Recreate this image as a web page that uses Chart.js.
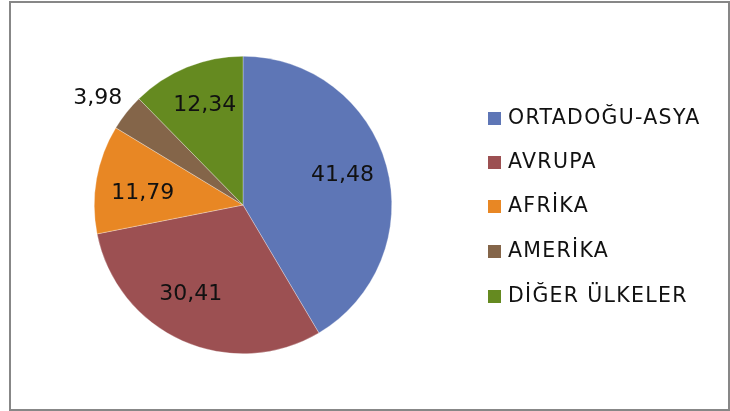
<!DOCTYPE html>
<html lang="tr">
  <head>
    <meta charset="UTF-8" />
    <title>Pie</title>
    <script src="https://cdn.jsdelivr.net/npm/chart.js"></script>
    <style>
      body { margin: 0; background: #fff; }
      .wrap { position: relative; width: 730px; height: 411px; overflow: hidden; }
      #pieChart { position: absolute; left: 0; top: 0; }
      .frame {
        position: absolute; left: 9px; top: 1px; width: 717px; height: 406px;
        border: 2px solid #878787;
      }
      .legend { position: absolute; left: 488px; top: 0; font-family: "DejaVu Sans", sans-serif; font-size: 20.5px; letter-spacing: 1.3px; color: #111; }
      .legend div { position: absolute; left: 0; white-space: nowrap; line-height: 20px; }
      .legend span.box { display: inline-block; width: 13px; height: 13px; margin-right: 7px; vertical-align: -1px; }
    </style>
  </head>
  <body>
    <div class="wrap">
      <canvas id="pieChart" width="730" height="411"></canvas>
      <div class="frame"></div>
      <div class="legend" id="legend"></div>
    </div>

    <script>
      // veriler
      const labels = ['ORTADOĞU-ASYA', 'AVRUPA', 'AFRİKA', 'AMERİKA', 'DİĞER ÜLKELER'];
      const values = [41.48, 30.41, 11.79, 3.98, 12.34];
      const colors = ['#5E76B6', '#9C5052', '#E88724', '#846549', '#658A20'];

      const fmt = v => v.toFixed(2).replace('.', ',');

      // etiket yerleşimi (Excel'deki gibi küçük kaydırmalar: derece, yarıçap oranı)
      const nudgeDeg = [-1.2, 6.4, -3.5, -2.1, 1.2];
      const radRatio = [0.697, 0.693, 0.678, 1.212, 0.715];

      // dilim etiketleri
      const sliceLabels = {
        id: 'sliceLabels',
        afterDatasetsDraw(chart) {
          const ctx = chart.ctx;
          const meta = chart.getDatasetMeta(0);
          ctx.save();
          ctx.font = '22px "DejaVu Sans", sans-serif';
          ctx.fillStyle = '#111';
          ctx.textAlign = 'center';
          ctx.textBaseline = 'middle';
          meta.data.forEach((arc, i) => {
            const p = arc.getProps(['x', 'y', 'startAngle', 'endAngle', 'outerRadius'], true);
            const mid = (p.startAngle + p.endAngle) / 2 + nudgeDeg[i] * Math.PI / 180;
            const r = p.outerRadius * radRatio[i];
            ctx.fillText(fmt(values[i]), p.x + Math.cos(mid) * r, p.y + Math.sin(mid) * r);
          });
          ctx.restore();
        }
      };

      const ctx = document.getElementById('pieChart').getContext('2d');
      const pieChart = new Chart(ctx, {
        type: 'pie',
        data: {
          labels: labels,
          datasets: [{
            data: values,
            backgroundColor: colors,
            borderColor: 'rgba(255,255,255,0.6)',
            borderWidth: 0.5
          }]
        },
        options: {
          responsive: false,
          animation: false,
          layout: { padding: { left: 94, right: 338, top: 56, bottom: 57 } },
          plugins: {
            legend: { display: false },
            tooltip: { enabled: false }
          }
        },
        plugins: [sliceLabels]
      });

      // lejant
      const legend = document.getElementById('legend');
      const rowY = [117, 161, 205, 250, 295];
      labels.forEach((name, i) => {
        const row = document.createElement('div');
        row.style.top = (rowY[i] - 10) + 'px';
        row.innerHTML = '<span class="box" style="background:' + colors[i] + '"></span>' + name;
        legend.appendChild(row);
      });
    </script>
  </body>
</html>
